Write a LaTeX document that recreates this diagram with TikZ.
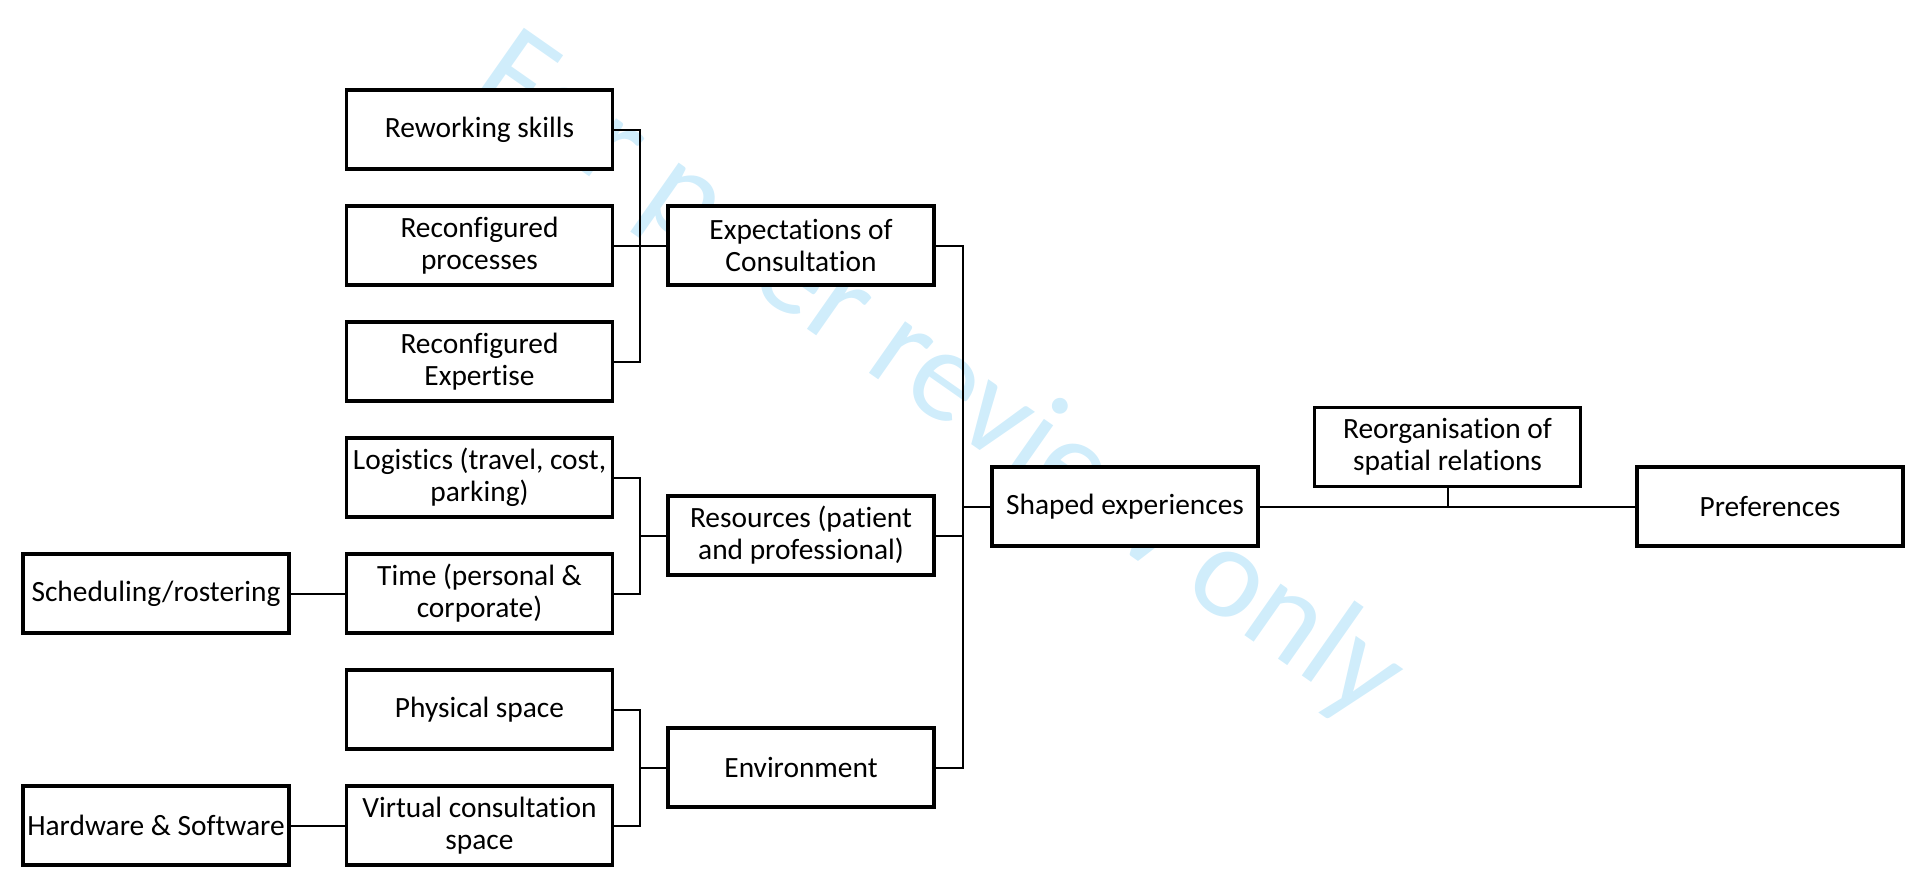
\documentclass[tikz,border=0pt]{standalone}
\usepackage{fontspec}
\setmainfont{Carlito}[Ligatures=NoCommon]
\definecolor{wmblue}{RGB}{208,237,251}
\tikzset{
  box/.style={draw, line width=1.8pt, fill=white, align=center,
    minimum width=133pt, minimum height=39.5pt, inner sep=2pt,
    font=\fontsize{14.7}{16}\selectfont},
  link/.style={line width=1pt},
}
\begin{document}
\begin{tikzpicture}[x=0.5pt, y=-0.5pt]
            \def\Xa{156}; % outer column
            \def\Xb{479.5}; % sub-themes
            \def\Xc{801}; % themes
            \def\Xd{1125};
            \def\Xe{1447.5};
            \def\Xf{1770};
            \def\Xbus{640}; % left bus
            \def\Xbusb{963}; % right bus

            \def\Ya{129.5};
            \def\Yb{245.5};
            \def\Yc{361.5};
            \def\Yd{477.5};
            \def\Ye{593.5};
            \def\Yf{709.5};
            \def\Yg{825.5};

            \useasboundingbox (0,0) rectangle (1909,875);

            % watermark
            \node[wmblue, rotate=-35, anchor=base west, inner sep=0pt,
              font=\fontsize{66}{72}\selectfont] (wm) at (468,92) {For peer review only};

            % sub-themes
            \node[box] (rework) at (\Xb, \Ya) {Reworking skills};
            \node[box] (reproc) at (\Xb, \Yb) {Reconfigured\\processes};
            \node[box] (reexp) at (\Xb, \Yc) {Reconfigured\\Expertise};
            \node[box] (logist) at (\Xb, \Yd) {Logistics (travel, cost,\\parking)};
            \node[box] (time) at (\Xb, \Ye) {Time (personal \&\\corporate)};
            \node[box] (phys) at (\Xb, \Yf) {Physical space};
            \node[box] (virt) at (\Xb, \Yg) {Virtual consultation\\space};

            % outer boxes
            \node[box] (sched) at (\Xa, \Ye) {Scheduling/rostering};
            \node[box] (hard) at (\Xa, \Yg) {Hardware \& Software};

            % themes
            \node[box] (expect) at (\Xc, \Yb) {Expectations of\\Consultation};
            \node[box] (resour) at (\Xc, 535.5) {Resources (patient\\and professional)};
            \node[box] (envir) at (\Xc, 767.5) {Environment};

            % right part
            \node[box] (shaped) at (\Xd, 506.5) {Shaped experiences};
            \node[box] (reorg) at (\Xe, 447) {Reorganisation of\\spatial relations};
            \node[box] (pref) at (\Xf, 506.5) {Preferences};

            % expectations bus
            \coordinate (busA) at (\Xbus, \Yb);
            \draw[link] (rework.east) -| (busA);
            \draw[link] (reexp.east) -| (busA);
            \draw[link] (reproc.east) -- (expect.west);

            % resources bus
            \coordinate (busB) at (\Xbus, 535.5);
            \draw[link] (logist.east) -| (busB) -- (resour.west);
            \draw[link] (time.east) -| (busB);
            \draw[link] (sched) -- (time);

            % environment bus
            \coordinate (busC) at (\Xbus, 767.5);
            \draw[link] (phys.east) -| (busC) -- (envir.west);
            \draw[link] (virt.east) -| (busC);
            \draw[link] (hard) -- (virt);

            % themes to shaped experiences
            \coordinate (busD) at (\Xbusb, 506.5);
            \draw[link] (expect.east) -| (busD) -- (shaped.west);
            \draw[link] (envir.east) -| (busD);
            \draw[link] (resour.east) -- (resour.east -| busD);

            % preferences
            \draw[link] (shaped) -- (pref);
            \draw[link] (reorg) -- (reorg |- shaped);

        \end{tikzpicture}
\end{document}
